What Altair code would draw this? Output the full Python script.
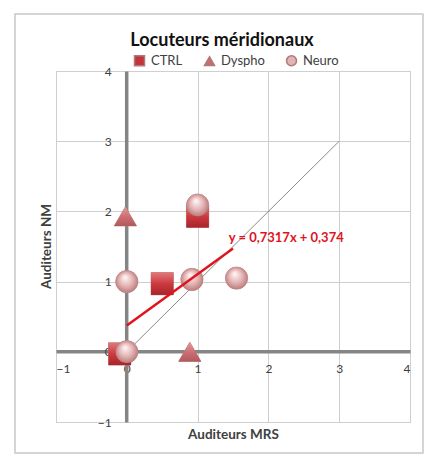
import altair as alt
import pandas as pd

# ---- data ----
series_names = ["CTRL", "Dyspho", "Neuro"]
series_colors = ["#C4333A", "#C86E70", "#E2B4B4"]
series_shapes = ["square", "triangle-up", "circle"]

ctrl_x = [-0.1, 0.5, 1.0]
ctrl_y = [-0.03, 0.97, 1.93]
dyspho_x = [-0.02, 0.89]
dyspho_y = [1.93, 0.0]
neuro_x = [0.0, 0.0, 0.92, 1.0, 1.55]
neuro_y = [0.0, 1.0, 1.03, 2.09, 1.05]

trend_x = [0.0, 1.5]
trend_y = [0.374, 1.472]
diag_x = [0.0, 3.0]
diag_y = [0.0, 3.0]

equation_text = ["y = 0,7317x + 0,374"]
equation_x = [1.44]
equation_y = [1.62]

tick_values = [-1, 0, 1, 2, 3, 4]

chart_title = "Locuteurs méridionaux"
x_title = "Auditeurs MRS"
y_title = "Auditeurs NM"

# ---- tables ----
rows = []
for name, xs, ys in [("CTRL", ctrl_x, ctrl_y), ("Dyspho", dyspho_x, dyspho_y), ("Neuro", neuro_x, neuro_y)]:
    for a, b in zip(xs, ys):
        rows.append({"x": a, "y": b, "serie": name})
points_df = pd.DataFrame(rows)
trend_df = pd.DataFrame({"x": trend_x, "y": trend_y})
diag_df = pd.DataFrame({"x": diag_x, "y": diag_y})
eq_df = pd.DataFrame({"x": equation_x, "y": equation_y, "t": equation_text})

W, H = 354, 351
FONT = "Lato"
SIZE = 500

x_axis = alt.Axis(
    values=tick_values, offset=-W / 5, domainColor="#858585", domainWidth=3.5,
    ticks=False, labelPadding=12, labelFont=FONT, labelFontSize=12, labelColor="#404040",
    gridColor="#CFCFCF", gridWidth=1, title=x_title, titleFont=FONT, titleFontSize=13.5,
    titleFontWeight="bold", titleColor="#404040", titleBaseline="middle", titleY=83,
)
y_axis = alt.Axis(
    values=tick_values, offset=-W / 5 + 0.6, domainColor="#858585", domainWidth=3.5,
    ticks=False, labelPadding=15, labelFont=FONT, labelFontSize=12, labelColor="#404040",
    gridColor="#CFCFCF", gridWidth=1, title=y_title, titleFont=FONT, titleFontSize=13.5,
    titleFontWeight="bold", titleColor="#404040", titleBaseline="middle", titleAlign="center",
    titleAngle=270, titleX=-80, titleY=175,
)
x_scale = alt.Scale(domain=[-1, 4], nice=False, zero=False)
y_scale = alt.Scale(domain=[-1, 4], nice=False, zero=False)

x_enc = alt.X("x:Q", scale=x_scale, axis=x_axis)
y_enc = alt.Y("y:Q", scale=y_scale, axis=y_axis)

frame = alt.Chart(alt.Data(values=[{}])).mark_rect(
    fill="white", fillOpacity=0, stroke="#C8C8C8", strokeWidth=1.5, clip=False
).encode(x=alt.value(-41), x2=alt.value(367), y=alt.value(-57), y2=alt.value(382))

diag = alt.Chart(diag_df).mark_line(color="#8A8A8A", strokeWidth=1).encode(x=x_enc, y=y_enc)

points = alt.Chart(points_df).mark_point(filled=True, size=SIZE, opacity=1,
                                         stroke="#B07878", strokeWidth=0.6).encode(
    x=x_enc, y=y_enc,
    color=alt.Color("serie:N", scale=alt.Scale(domain=series_names, range=series_colors),
                    legend=alt.Legend(orient="none", legendX=77, legendY=-17, direction="horizontal",
                                      title=None, symbolSize=100, labelFont=FONT, labelFontSize=13,
                                      labelColor="#404040", columnPadding=18, labelOffset=5)),
    shape=alt.Shape("serie:N", scale=alt.Scale(domain=series_names, range=series_shapes)),
)

# shaded overlays giving the 3D look of the original markers
grad_neuro = {"gradient": "radial", "x1": 0.42, "y1": 0.3, "r1": 0.02, "x2": 0.5, "y2": 0.5, "r2": 0.55,
              "stops": [{"offset": 0, "color": "#FFF6F6"}, {"offset": 0.55, "color": "#E3B2B2"},
                        {"offset": 1, "color": "#B27474"}]}
grad_ctrl = {"gradient": "linear", "x1": 0, "y1": 0, "x2": 0, "y2": 1,
             "stops": [{"offset": 0, "color": "#E0787A"}, {"offset": 0.5, "color": "#CC3A40"},
                       {"offset": 1, "color": "#A8242A"}]}
grad_dys = {"gradient": "linear", "x1": 0, "y1": 0, "x2": 0, "y2": 1,
            "stops": [{"offset": 0, "color": "#E29A9A"}, {"offset": 0.6, "color": "#C86A6E"},
                      {"offset": 1, "color": "#B05A5E"}]}

ov_ctrl = alt.Chart(points_df).transform_filter(alt.datum.serie == "CTRL").mark_point(
    filled=True, size=SIZE, shape="square", fill=grad_ctrl, opacity=1).encode(x=x_enc, y=y_enc)
ov_dys = alt.Chart(points_df).transform_filter(alt.datum.serie == "Dyspho").mark_point(
    filled=True, size=SIZE, shape="triangle-up", fill=grad_dys, opacity=1).encode(x=x_enc, y=y_enc)
ov_neuro = alt.Chart(points_df).transform_filter(alt.datum.serie == "Neuro").mark_point(
    filled=True, size=SIZE, shape="circle", fill=grad_neuro, opacity=1).encode(x=x_enc, y=y_enc)

trend = alt.Chart(trend_df).mark_line(color="#E0141E", strokeWidth=2.5).encode(x=x_enc, y=y_enc)

eq = alt.Chart(eq_df).mark_text(align="left", baseline="middle", color="#E0141E",
                                fontWeight="bold", fontSize=13, font=FONT).encode(
    x=x_enc, y=y_enc, text="t:N")

chart = alt.layer(frame, diag, points, ov_ctrl, ov_dys, ov_neuro, trend, eq).properties(
    width=W, height=H,
    autosize=alt.AutoSizeParams(type="none"),
    padding={"left": 48, "top": 63, "right": 16, "bottom": 32},
    title=alt.TitleParams(chart_title, font=FONT, fontSize=18, fontWeight="bold", color="#111111",
                          anchor="middle", dx=-11, dy=41),
).configure_view(stroke="#C0C0C0", strokeWidth=1)

chart.save("out.html", embed_options={"renderer": "svg", "actions": False})
